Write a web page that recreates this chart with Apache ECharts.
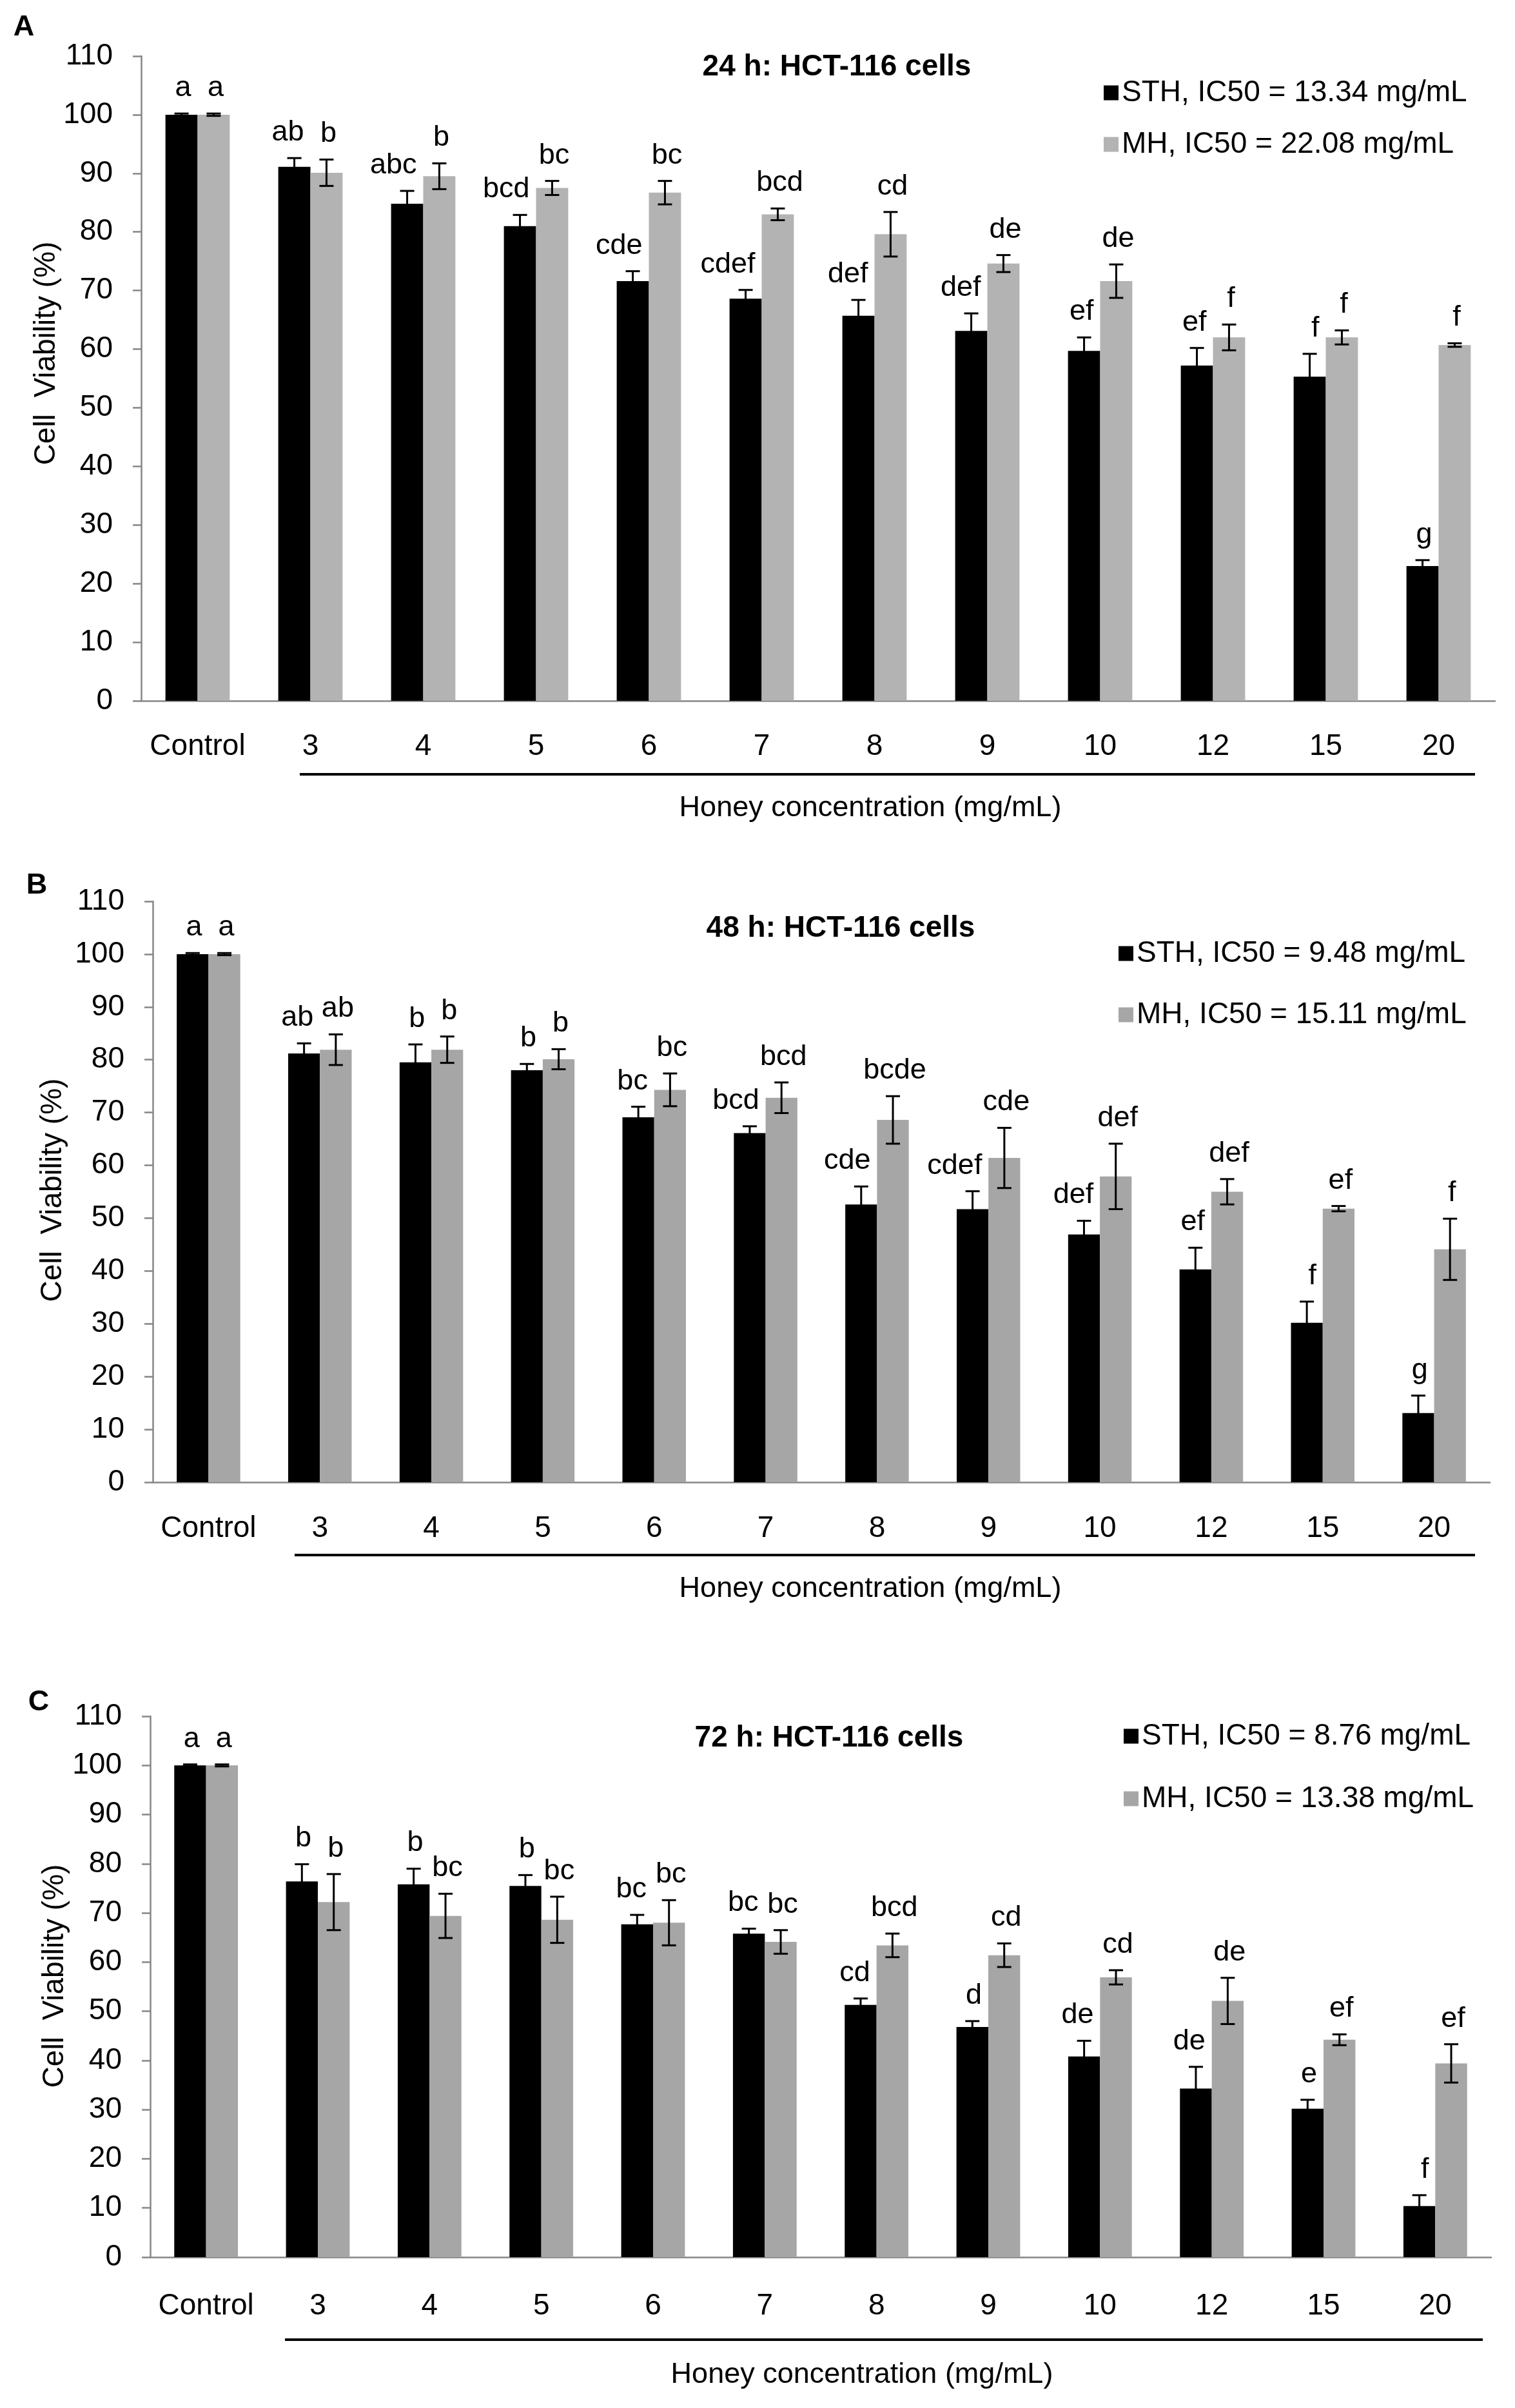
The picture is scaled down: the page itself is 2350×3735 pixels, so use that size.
<!DOCTYPE html>
<html>
<head>
<meta charset="utf-8">
<script src="https://cdn.jsdelivr.net/npm/echarts@6/dist/echarts.min.js"></script>
<style>
  html, body { margin: 0; padding: 0; background: #fff; }
  #chart { width: 2350px; height: 3735px; }
</style>
</head>
<body>
<div id="chart"></div>
<script>
// categories (honey concentration, mg/mL)
const categories = ['Control', '3', '4', '5', '6', '7', '8', '9', '10', '12', '15', '20'];

// A: 24 h
const sth24 = [100, 91.1, 84.8, 81.0, 71.6, 68.6, 65.7, 63.1, 59.7, 57.2, 55.3, 23.0];
const sth24Err = [0.2, 1.5, 2.2, 1.9, 1.7, 1.5, 2.7, 3.0, 2.3, 3.0, 3.9, 1.0];
const mh24 = [100, 90.1, 89.5, 87.5, 86.7, 83.0, 79.6, 74.6, 71.6, 62.0, 62.0, 60.7];
const mh24Err = [0.2, 2.25, 2.2, 1.2, 2.0, 1.0, 3.8, 1.45, 2.85, 2.2, 1.2, 0.3];
const sth24Letters = ['a', 'ab', 'abc', 'bcd', 'cde', 'cdef', 'def', 'def', 'ef', 'ef', 'f', 'g'];
const mh24Letters = ['a', 'b', 'b', 'bc', 'bc', 'bcd', 'cd', 'de', 'de', 'f', 'f', 'f'];

// B: 48 h
const sth48 = [100, 81.2, 79.5, 78.0, 69.1, 66.1, 52.6, 51.7, 46.9, 40.3, 30.2, 13.1];
const sth48Err = [0.2, 1.9, 3.4, 1.2, 2.0, 1.3, 3.4, 3.4, 2.6, 4.1, 4.0, 3.3];
const mh48 = [100, 81.9, 81.9, 80.1, 74.3, 72.8, 68.6, 61.4, 57.9, 55.0, 51.8, 44.1];
const mh48Err = [0.2, 2.9, 2.5, 1.9, 3.1, 2.9, 4.5, 5.7, 6.2, 2.4, 0.5, 5.8];
const sth48Letters = ['a', 'ab', 'b', 'b', 'bc', 'bcd', 'cde', 'cdef', 'def', 'ef', 'f', 'g'];
const mh48Letters = ['a', 'ab', 'b', 'b', 'bc', 'bcd', 'bcde', 'cde', 'def', 'def', 'ef', 'f'];

// C: 72 h
const sth72 = [100, 76.4, 75.8, 75.5, 67.7, 65.8, 51.3, 46.8, 40.8, 34.3, 30.2, 10.4];
const sth72Err = [0.2, 3.5, 3.2, 2.2, 1.9, 1.0, 1.3, 1.2, 3.2, 4.4, 1.8, 2.2];
const mh72 = [100, 72.2, 69.4, 68.6, 68.0, 64.1, 63.4, 61.4, 56.9, 52.1, 44.2, 39.4];
const mh72Err = [0.2, 5.7, 4.5, 4.7, 4.6, 2.4, 2.4, 2.4, 1.45, 4.7, 1.1, 3.9];
const sth72Letters = ['a', 'b', 'b', 'b', 'bc', 'bc', 'cd', 'd', 'de', 'de', 'e', 'f'];
const mh72Letters = ['a', 'b', 'bc', 'bc', 'bc', 'bc', 'bcd', 'cd', 'cd', 'de', 'ef', 'ef'];

const yTicks = {min: 0, max: 110, interval: 10};

const FONT = '"Liberation Sans", Arial, sans-serif';
const AXIS_GREY = '#868686';
const BAR_FRAC = 0.285;

const panels = [
    {letter: 'A', title: '24 h: HCT-116 cells',
     sth: sth24, sthErr: sth24Err, sthLet: sth24Letters, sthName: 'STH, IC50 = 13.34 mg/mL',
     mh: mh24, mhErr: mh24Err, mhLet: mh24Letters, mhName: 'MH, IC50 = 22.08 mg/mL',
     mhColor: '#b3b3b3',
     grid: {left: 219, right: 31, top: 87, height: 1000}, labelMargin: 48,
     letterPos: [37, 43], titlePos: [1298, 104], yName: [72, 548],
     line: [465, 2288, 1201], xName: [1350, 1254],
     legend: {left: 1712, row: 144, gap: 34}},
    {letter: 'B', title: '48 h: HCT-116 cells',
     sth: sth48, sthErr: sth48Err, sthLet: sth48Letters, sthName: 'STH, IC50 = 9.48 mg/mL',
     mh: mh48, mhErr: mh48Err, mhLet: mh48Letters, mhName: 'MH, IC50 = 15.11 mg/mL',
     mhColor: '#a6a6a6',
     grid: {left: 237, right: 39, top: 1398, height: 901}, labelMargin: 49,
     letterPos: [57, 1374], titlePos: [1304, 1440], yName: [82, 1846],
     line: [457, 2288, 2412], xName: [1350, 2465],
     legend: {left: 1735, row: 1479, gap: 49}},
    {letter: 'C', title: '72 h: HCT-116 cells',
     sth: sth72, sthErr: sth72Err, sthLet: sth72Letters, sthName: 'STH, IC50 = 8.76 mg/mL',
     mh: mh72, mhErr: mh72Err, mhLet: mh72Letters, mhName: 'MH, IC50 = 13.38 mg/mL',
     mhColor: '#a6a6a6',
     grid: {left: 233, right: 37, top: 2662, height: 839}, labelMargin: 53,
     letterPos: [60, 2641], titlePos: [1286, 2696], yName: [85, 3065],
     line: [442, 2300, 3629], xName: [1337, 3684],
     legend: {left: 1743, row: 2693, gap: 51}}
];

// error bars + significance letters drawn on top of each bar
// side -1 = STH (left bar), +1 = MH (right bar)
function errorSeries(idx, vals, errs, letters, side) {
    return {
        type: 'custom',
        xAxisIndex: idx,
        yAxisIndex: idx,
        silent: true,
        z: 10,
        data: vals.map((v, i) => [i, v, errs[i]]),
        renderItem: function (params, api) {
            const i = api.value(0), v = api.value(1), e = api.value(2);
            const bw = api.size([1, 0])[0] * BAR_FRAC;
            const x = api.coord([i, v])[0] + side * bw / 2;
            const yT = api.coord([i, v + e])[1];
            const yB = api.coord([i, v - e])[1];
            const st = {stroke: '#000', lineWidth: 3};
            // letters on the left bar sit right-aligned near the bar's right edge
            const lx = side < 0 ? x + bw * 0.3 : x + 3;
            return {
                type: 'group',
                children: [
                    {type: 'line', shape: {x1: x, y1: yT, x2: x, y2: yB}, style: st},
                    {type: 'line', shape: {x1: x - 11, y1: yT, x2: x + 11, y2: yT}, style: st},
                    {type: 'line', shape: {x1: x - 11, y1: yB, x2: x + 11, y2: yB}, style: st},
                    {type: 'text', style: {
                        text: letters[params.dataIndex], x: lx, y: yT - 17,
                        align: side < 0 ? 'right' : 'center', verticalAlign: 'bottom',
                        fontSize: 45, fontFamily: FONT, fill: '#000'
                    }}
                ]
            };
        }
    };
}

const option = {
    animation: false,
    backgroundColor: '#fff',
    textStyle: {fontFamily: FONT},
    grid: [], xAxis: [], yAxis: [], legend: [], series: [], graphic: []
};

panels.forEach(function (p, idx) {
    option.grid.push(p.grid);
    option.xAxis.push({
        type: 'category', gridIndex: idx, data: categories,
        axisLine: {lineStyle: {color: AXIS_GREY, width: 2.5}},
        axisTick: {interval: 0, length: 13, lineStyle: {color: AXIS_GREY, width: 2.5}},
        axisLabel: {interval: 0, fontSize: 46, color: '#000', margin: p.labelMargin, fontFamily: FONT}
    });
    option.yAxis.push({
        type: 'value', gridIndex: idx, min: yTicks.min, max: yTicks.max, interval: yTicks.interval,
        axisLine: {show: true, lineStyle: {color: AXIS_GREY, width: 2.5}},
        axisTick: {show: true, length: 13, lineStyle: {color: AXIS_GREY, width: 2.5}},
        splitLine: {show: false},
        axisLabel: {fontSize: 46, color: '#000', margin: 44, fontFamily: FONT}
    });
    option.legend.push({
        orient: 'vertical', left: p.legend.left, top: p.legend.row - 23, padding: 0,
        icon: 'rect', itemWidth: 23, itemHeight: 23, itemGap: p.legend.gap,
        textStyle: {fontSize: 46, color: '#000', fontFamily: FONT, lineHeight: 46, padding: [0, 0, 0, 0]},
        data: [p.sthName, p.mhName]
    });
    option.series.push(
        {name: p.sthName, type: 'bar', xAxisIndex: idx, yAxisIndex: idx, data: p.sth,
         barWidth: (BAR_FRAC * 100) + '%', barGap: '0%', itemStyle: {color: '#000'}},
        {name: p.mhName, type: 'bar', xAxisIndex: idx, yAxisIndex: idx, data: p.mh,
         barWidth: (BAR_FRAC * 100) + '%', barGap: '0%', itemStyle: {color: p.mhColor}},
        errorSeries(idx, p.sth, p.sthErr, p.sthLet, -1),
        errorSeries(idx, p.mh, p.mhErr, p.mhLet, 1)
    );
    option.graphic.push(
        {type: 'text', x: p.letterPos[0], y: p.letterPos[1],
         style: {text: p.letter, align: 'center', verticalAlign: 'middle',
                 fontSize: 45, fontWeight: 'bold', fontFamily: FONT, fill: '#000'}},
        {type: 'text', x: p.titlePos[0], y: p.titlePos[1],
         style: {text: p.title, align: 'center', verticalAlign: 'middle',
                 fontSize: 46, fontWeight: 'bold', fontFamily: FONT, fill: '#000'}},
        {type: 'text', x: p.yName[0], y: p.yName[1], rotation: Math.PI / 2,
         style: {text: 'Cell  Viability (%)', align: 'center', verticalAlign: 'middle',
                 fontSize: 46, fontFamily: FONT, fill: '#000'}},
        {type: 'line', shape: {x1: p.line[0], y1: p.line[2], x2: p.line[1], y2: p.line[2]},
         style: {stroke: '#000', lineWidth: 4}},
        {type: 'text', x: p.xName[0], y: p.xName[1],
         style: {text: 'Honey concentration (mg/mL)', align: 'center', verticalAlign: 'middle',
                 fontSize: 45, fontFamily: FONT, fill: '#000'}}
    );
});

const chart = echarts.init(document.getElementById('chart'), null, {renderer: 'canvas'});
chart.setOption(option);
</script>
</body>
</html>
